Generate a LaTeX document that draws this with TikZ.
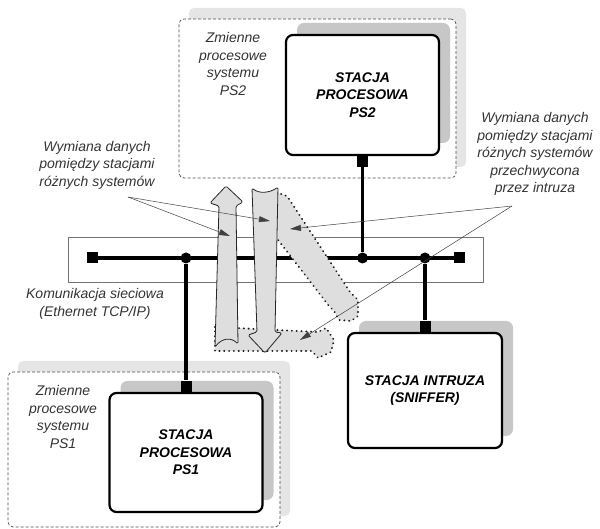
\documentclass[tikz,border=0pt]{standalone}
\usepackage{fontspec}
\setmainfont{Liberation Sans}
\usetikzlibrary{positioning, shadows, arrows.meta}

\begin{document}
\begin{tikzpicture}[
    x=1pt, y=-1pt,
    sysbox/.style={rectangle, draw=black!70, densely dashed, line width=0.7pt,
                  rounded corners=5pt, fill=white, inner sep=0pt,
                  drop shadow={shadow xshift=10pt, shadow yshift=11pt, draw=none,
                               fill=black!10, opacity=1}},
    station/.style={rectangle, draw, line width=2.2pt, rounded corners=7pt, fill=white,
                  minimum width=153pt, align=center,
                  font=\fontsize{14}{17.5}\selectfont\bfseries\itshape,
                  drop shadow={shadow xshift=11pt, shadow yshift=12pt, draw=none,
                               fill=black!22, opacity=1}},
    port/.style={rectangle, fill=black, minimum size=11pt, inner sep=0pt},
    junction/.style={circle, fill=black, minimum size=11pt, inner sep=0pt},
    link/.style={line width=3.5pt},
    note/.style={font=\fontsize{14}{17.5}\selectfont\itshape, text=black!80, align=center},
    flow/.style={fill=black!13, draw=black!85, line width=0.8pt, line join=round},
    sniffed/.style={fill=black!13, draw=black!90, line width=2.1pt, line cap=round,
                    dash pattern=on 0.01pt off 4.8pt},
    pointer/.style={draw=black!75, line width=0.5pt, -{Triangle[length=11pt, width=6pt]}}
]
\useasboundingbox (0,0) rectangle (600,529);

% process variable groups
\node[sysbox, minimum width=277pt, minimum height=159pt] (grp2) at (317.5,98.5) {};
\node[sysbox, minimum width=272pt, minimum height=155pt] (grp1) at (144,449.5) {};
\node[note] (var2) at (233,64)  {Zmienne\\procesowe\\systemu\\PS2};
\node[note] (var1) at (63,417)  {Zmienne\\procesowe\\systemu\\PS1};

% stations
\node[station, minimum height=120pt] (ps2)   at (362.5,95)  {STACJA\\PROCESOWA\\PS2};
\node[station, minimum height=119pt] (ps1)   at (186,452.5) {STACJA\\PROCESOWA\\PS1};
\node[station, minimum height=115pt, minimum width=154pt] (sniff) at (425,390.5) {STACJA INTRUZA\\(SNIFFER)};

\node[port, below=0pt of ps2]   (p2) {};
\node[port, above=0pt of ps1]   (p1) {};
\node[port, above=0pt of sniff] (p3) {};

% network
\node[rectangle, draw=black!55, line width=0.6pt, minimum width=415pt,
      minimum height=45pt] (net) at (275.5,259.5) {};
\node[port] (endL) at (92,258) {};
\node[port] (endR) at (459.5,258) {};
\draw[link] (endL) -- (endR);
\node[junction] (j1) at (p1 |- endL) {};
\node[junction] (j2) at (p2 |- endL) {};
\node[junction] (j3) at (p3 |- endL) {};
\draw[link] (p2) -- (j2);
\draw[link] (j1) -- (p1);
\draw[link] (j3) -- (p3);
\node[note] (netlbl) at (95,304) {Komunikacja sieciowa\\(Ethernet TCP/IP)};

% intercepted copies
\draw[sniffed] (272,191) -- (287,196) -- (350,292) -- (358,300) -- (358,316) -- (351,321)
    -- (339,320) -- (334,311) -- (329,306) -- (272,232) -- cycle;
\draw[sniffed] (215,327) -- (318,332) -- (326,328) -- (334,340) -- (331,352) -- (318,358)
    -- (312,351) -- (215,351) -- cycle;

% exchange between systems
\draw[flow, rounded corners=1.5pt] (226,186) -- (243,202) -- (236,206) -- (238,344)
    .. controls (231,337) and (222,338) .. (215,347) -- (219,206) -- (210,203) -- cycle;
\draw[flow, rounded corners=1.5pt] (252,188) .. controls (259,194) and (270,193) .. (278,187)
    -- (275,332) -- (282,333) -- (265,353) -- (248,335) -- (257,332) -- cycle;

% annotations
\node[note] (xchg)   at (97,165)  {Wymiana danych\\pomiędzy stacjami\\różnych systemów};
\node[note] (tapped) at (535,154) {Wymiana danych\\pomiędzy stacjami\\różnych systemów\\przechwycona\\przez intruza};
\coordinate (xchgpt)   at (128,197);
\coordinate (tappedpt) at (512,206);
\coordinate (upflow)   at (230,236);
\coordinate (downflow) at (270,221);
\coordinate (tapflow)  at (290,229);
\coordinate (tapend)   at (300,340);

\draw[pointer] (xchgpt) -- (upflow);
\draw[pointer] (xchgpt) -- (downflow);
\draw[pointer] (tappedpt) -- (tapflow);
\draw[pointer] (tappedpt) -- (tapend);

\end{tikzpicture}
\end{document}
